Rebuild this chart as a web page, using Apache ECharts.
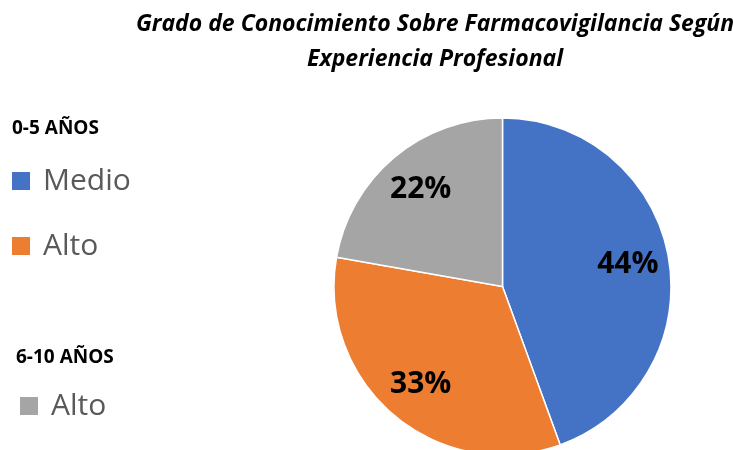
<!DOCTYPE html>
<html>
<head>
<meta charset="utf-8">
<script src="https://cdn.jsdelivr.net/npm/echarts@6/dist/echarts.min.js"></script>
<style>
  html, body { margin: 0; padding: 0; background: #fff; }
  #chart { width: 733px; height: 450px; }
</style>
</head>
<body>
<div id="chart"></div>
<script>
// datos del grafico
const categories = ['Medio', 'Alto', 'Alto']
const groups = ['0-5 AÑOS', '0-5 AÑOS', '6-10 AÑOS']
const values = [4, 3, 2]
const colors = ['#4472C4', '#ED7D31', '#A5A5A5']
const ids = ['medio_05', 'alto_05', 'alto_610']

const chart = echarts.init(document.getElementById('chart'))

// nombres unicos para no mezclar los dos "Alto" en la leyenda
const pieData = values.map((v, i) => ({
    name: ids[i],
    value: v,
    itemStyle: { color: colors[i] }
}))

const legendText = {
    fontFamily: 'Open Sans',
    fontSize: 30,
    color: '#595959',
    lineHeight: 34,
    padding: [0, 0, 0, 7]
}
const nameOf = id => categories[ids.indexOf(id)]

const center = [502.5, 286.5]

const option = {
    animation: false,
    title: {
        text: 'Grado de Conocimiento Sobre Farmacovigilancia Según\nExperiencia Profesional',
        left: 430,
        top: 2,
        textAlign: 'center',
        textStyle: {
            fontFamily: 'Open Sans',
            fontSize: 23,
            fontWeight: 'bold',
            fontStyle: 'italic',
            color: '#000',
            lineHeight: 35
        }
    },
    graphic: [
        {
            type: 'text', left: 12, top: 119,
            style: { text: groups[0], fontFamily: 'Open Sans', fontSize: 19, fontWeight: 'bold', fill: '#000' }
        },
        {
            type: 'text', left: 16, top: 348,
            style: { text: groups[2], fontFamily: 'Open Sans', fontSize: 19, fontWeight: 'bold', fill: '#000' }
        }
    ],
    legend: [
        {
            orient: 'vertical',
            left: 10,
            top: 164,
            padding: 0,
            icon: 'rect',
            itemWidth: 20,
            itemHeight: 20,
            itemGap: 31,
            data: ids.slice(0, 2).map((id, i) => ({ name: id, itemStyle: { color: colors[i] } })),
            formatter: nameOf,
            textStyle: legendText,
            selectedMode: false
        },
        {
            orient: 'vertical',
            left: 18,
            top: 389,
            padding: 0,
            icon: 'rect',
            itemWidth: 20,
            itemHeight: 20,
            data: [{ name: ids[2], itemStyle: { color: colors[2] } }],
            formatter: nameOf,
            textStyle: legendText,
            selectedMode: false
        }
    ],
    series: [
        {
            type: 'pie',
            center: center,
            radius: [0, 168.5],
            startAngle: 90,
            clockwise: true,
            data: pieData,
            itemStyle: { borderColor: '#fff', borderWidth: 1.5 },
            label: { show: false },
            labelLine: { show: false },
            emphasis: { disabled: true }
        },
        {
            // solo etiquetas, en un anillo para llevarlas hacia el borde
            type: 'pie',
            center: center,
            radius: [80, 168.5],
            startAngle: 90,
            clockwise: true,
            silent: true,
            data: pieData.map(d => ({ name: d.name, value: d.value, itemStyle: { color: 'rgba(0,0,0,0)' } })),
            itemStyle: { borderWidth: 0 },
            label: {
                show: true,
                position: 'inside',
                formatter: p => Math.round(p.percent) + '%',
                fontFamily: 'Open Sans',
                fontSize: 30,
                fontWeight: 'bold',
                color: '#000'
            },
            labelLine: { show: false },
            emphasis: { disabled: true }
        }
    ]
}

chart.setOption(option)
</script>
</body>
</html>
